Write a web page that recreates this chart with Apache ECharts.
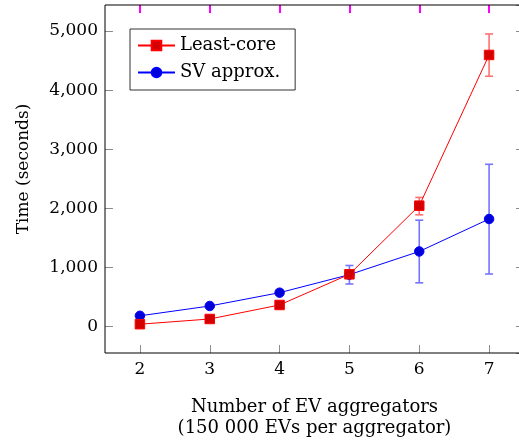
<!DOCTYPE html>
<html>
<head>
<meta charset="utf-8">
<script src="https://cdn.jsdelivr.net/npm/echarts@6/dist/echarts.min.js"></script>
<style>
html,body{margin:0;padding:0;background:#fff;}
#chart{width:519px;height:442px;}
</style>
</head>
<body>
<div id="chart"></div>
<script>
// ---- data ----
const categories = ['2', '3', '4', '5', '6', '7'];
const leastCore = [42, 130, 367, 886, 2046, 4595];
const svApprox = [184, 350, 575, 880, 1272, 1821];
const leastCoreLow = [null, null, null, null, 1892, 4235];
const leastCoreHigh = [null, null, null, null, 2186, 4950];
const svLow = [null, null, null, 722, 742, 891];
const svHigh = [null, null, null, 1035, 1801, 2746];
const yTickValues = [0, 1000, 2000, 3000, 4000, 5000];

const FONT = 'DejaVu Serif';

function errData(lo, hi) {
  const out = [];
  for (let i = 0; i < categories.length; i++) {
    if (lo[i] != null && hi[i] != null) out.push([i, lo[i], hi[i]]);
  }
  return out;
}

function errRenderer(color) {
  return function (params, api) {
    const x = api.value(0);
    const p1 = api.coord([x, api.value(1)]);
    const p2 = api.coord([x, api.value(2)]);
    const hw = 4;
    const style = { stroke: color, lineWidth: 1.6, fill: null };
    return {
      type: 'group',
      children: [
        { type: 'line', shape: { x1: p1[0], y1: p1[1], x2: p2[0], y2: p2[1] }, style: style },
        { type: 'line', shape: { x1: p1[0] - hw, y1: p1[1], x2: p1[0] + hw, y2: p1[1] }, style: style },
        { type: 'line', shape: { x1: p2[0] - hw, y1: p2[1], x2: p2[0] + hw, y2: p2[1] }, style: style }
      ]
    };
  };
}

const tickStyle = { show: true, inside: true, length: 8, lineStyle: { color: '#8c8c8c', width: 1 } };
const xTickTop = { show: true, inside: true, length: 8, alignWithLabel: true, interval: 0, lineStyle: { color: '#ff00ff', width: 2 } };
const xTickBottom = { show: true, inside: true, length: 8, alignWithLabel: true, interval: 0, lineStyle: { color: '#8c8c8c', width: 1 } };

const chart = echarts.init(document.getElementById('chart'), null, { renderer: 'canvas' });
chart.setOption({
  animation: false,
  backgroundColor: '#ffffff',
  grid: {
    left: 105, right: -5, top: 5, bottom: 89,
    show: true, borderColor: '#000', borderWidth: 1, backgroundColor: 'transparent',
    containLabel: false, outerBoundsMode: 'none', z: 3
  },
  legend: {
    data: ['Least-core', 'SV approx.'],
    orient: 'vertical',
    left: 130, top: 29,
    itemWidth: 37, itemHeight: 12, itemGap: 8,
    padding: [7, 15, 8, 7],
    borderColor: '#333', borderWidth: 1, backgroundColor: '#fff',
    textStyle: { fontFamily: FONT, fontSize: 18, color: '#000', lineHeight: 19 },
    z: 10
  },
  xAxis: [{
    type: 'category',
    data: categories,
    boundaryGap: true,
    position: 'top',
    axisLine: { show: false, onZero: false },
    axisTick: xTickTop,
    axisLabel: { show: false },
    splitLine: { show: false }
  }, {
    type: 'category',
    data: categories,
    boundaryGap: true,
    position: 'bottom',
    axisLine: { show: false, onZero: false },
    axisTick: xTickBottom,
    axisLabel: { fontFamily: FONT, fontSize: 17, color: '#000', margin: 8 },
    splitLine: { show: false },
    name: 'Number of EV aggregators\n(150 000 EVs per aggregator)',
    nameLocation: 'middle',
    nameGap: 44,
    nameTextStyle: { fontFamily: FONT, fontSize: 18, color: '#000', lineHeight: 21 }
  }],
  yAxis: [{
    type: 'value',
    min: -445, max: 5440,
    splitNumber: 6,
    position: 'left',
    axisLine: { show: false, onZero: false },
    axisTick: tickStyle,
    splitLine: { show: false },
    axisLabel: {
      fontFamily: FONT, fontSize: 17, color: '#000', margin: 7,
      showMinLabel: false, showMaxLabel: false,
      formatter: function (v) { return yTickValues.indexOf(v) >= 0 ? v.toLocaleString('en-US') : ''; }
    },
    name: 'Time (seconds)',
    nameLocation: 'middle',
    nameGap: 73,
    nameTextStyle: { fontFamily: FONT, fontSize: 17, color: '#000', padding: [0, 0, 0, 20] }
  }, {
    type: 'value',
    min: -445, max: 5440,
    splitNumber: 6,
    position: 'right',
    axisLine: { show: false, onZero: false },
    axisTick: tickStyle,
    splitLine: { show: false },
    axisLabel: { show: false }
  }],
  series: [{
    name: 'SV approx. error',
    type: 'custom',
    renderItem: errRenderer('#7474ff'),
    data: errData(svLow, svHigh),
    encode: { x: 0, y: [1, 2] },
    z: 1, silent: true
  }, {
    name: 'Least-core error',
    type: 'custom',
    renderItem: errRenderer('#ff7070'),
    data: errData(leastCoreLow, leastCoreHigh),
    encode: { x: 0, y: [1, 2] },
    z: 1, silent: true
  }, {
    name: 'SV approx.',
    type: 'line',
    data: svApprox,
    symbol: 'circle',
    symbolSize: 9.5,
    lineStyle: { color: '#0000ff', width: 1 },
    itemStyle: { color: '#0000d8', borderColor: '#0000ff', borderWidth: 1 },
    z: 2
  }, {
    name: 'Least-core',
    type: 'line',
    data: leastCore,
    symbol: 'rect',
    symbolSize: 9.5,
    lineStyle: { color: '#ff0000', width: 1 },
    itemStyle: { color: '#d40000', borderColor: '#ff0000', borderWidth: 1 },
    z: 3
  }]
});
</script>
</body>
</html>
